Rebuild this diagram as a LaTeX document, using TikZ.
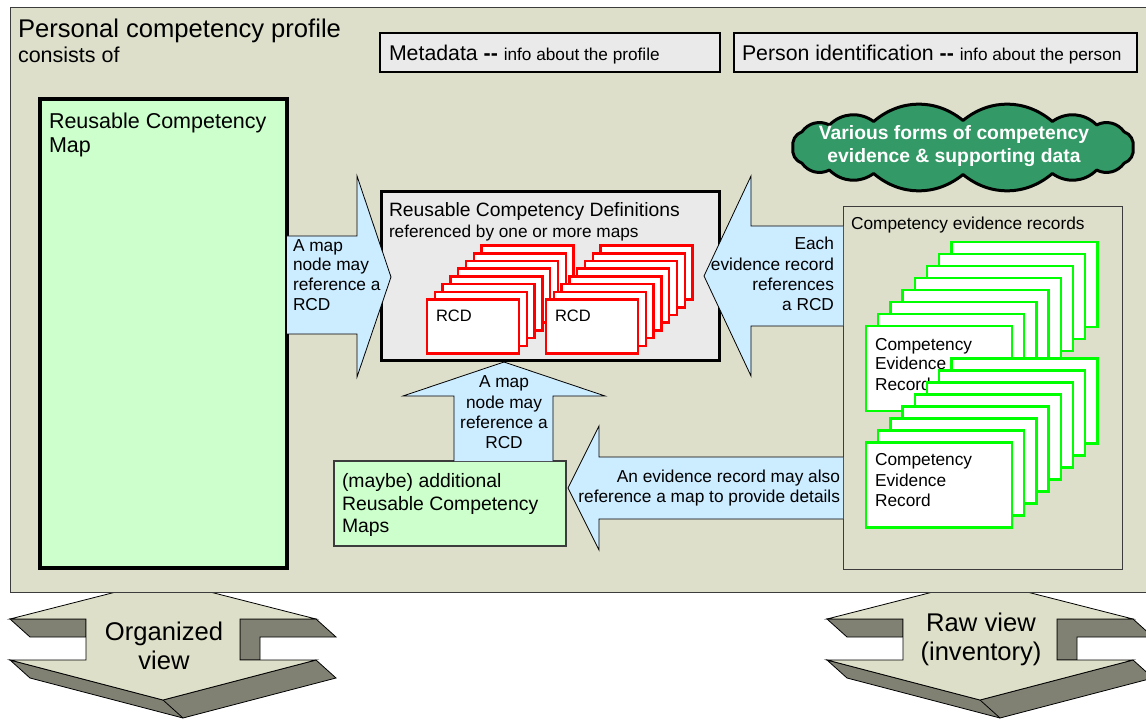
\documentclass[tikz,border=0pt]{standalone}
\usepackage{fontspec}
\setmainfont{Liberation Sans}
\definecolor{bgolive}{RGB}{221,223,203}
\definecolor{frame}{RGB}{60,60,60}
\definecolor{boxgray}{RGB}{234,234,234}
\definecolor{lgreen}{RGB}{204,255,204}
\definecolor{lblue}{RGB}{204,236,255}
\definecolor{cloudgreen}{RGB}{51,153,102}
\definecolor{dkgray}{RGB}{128,129,115}
\definecolor{viewface}{RGB}{221,223,200}
\definecolor{cardred}{RGB}{255,0,0}
\definecolor{cardgreen}{RGB}{0,255,0}
\newcommand{\fsz}[1]{\fontsize{#1pt}{#1pt}\selectfont}
\newcommand{\viewshape}[1]{%
  \filldraw[fill=dkgray,draw=black,line width=0.8pt] (#1-153,619) -- (#1-77,619) -- (#1-77,637) -- (#1-133,637) -- cycle;
  \filldraw[fill=dkgray,draw=black,line width=0.8pt] (#1+77,619) -- (#1+153,619) -- (#1+173,637) -- (#1+97,637) -- (#1+97,660) -- (#1+77,660) -- cycle;
  \filldraw[fill=dkgray,draw=black,line width=0.8pt] (#1-153,660) -- (#1-133,678) -- (#1+20,718) -- (#1+173,678) -- (#1+153,660) -- (#1,700) -- cycle;
  \draw[line width=0.8pt] (#1,700) -- (#1+20,718);
  \filldraw[fill=viewface,draw=black,line width=0.8pt] (#1,580) -- (#1+153,619) -- (#1+77,619) -- (#1+77,660) -- (#1+153,660) -- (#1,700) -- (#1-153,660) -- (#1-77,660) -- (#1-77,619) -- (#1-153,619) -- cycle;
}
\begin{document}
\begin{tikzpicture}[x=1pt,y=-1pt,
  txt/.style={inner sep=0pt,outer sep=0pt,font=\fsz{17.3}},
  boxn/.style={rectangle,anchor=north west,inner sep=0pt,outer sep=0pt},
  rcdcard/.style={boxn,draw=cardred,fill=white,line width=2.5pt,minimum width=92pt,minimum height=54pt},
  evcard/.style={boxn,draw=cardgreen,fill=white,line width=2.5pt,minimum width=146pt,minimum height=85pt},
  blockarrow/.style={fill=lblue,draw=black,line width=0.8pt}]
\useasboundingbox (0,0) rectangle (1146,719);

% bottom view arrows
\viewshape{163}
\viewshape{980}
\node[txt,font=\fsz{25.6},anchor=base] (org1) at (164,640) {Organized};
\node[txt,font=\fsz{25.6},anchor=base] (org2) at (164,669) {view};
\node[txt,font=\fsz{25.6},anchor=base] (raw1) at (981,631) {Raw view};
\node[txt,font=\fsz{25.6},anchor=base] (raw2) at (981,660) {(inventory)};

% profile background
\node[boxn,fill=bgolive,draw=frame,line width=1pt,minimum width=1140pt,minimum height=584pt] (profile) at (10,8) {};
\node[txt,font=\fsz{25.6},anchor=base west] (title) at (18,38) {Personal competency profile};
\node[txt,font=\fsz{21.5},anchor=base west] (consists) at (18,63) {consists of};

% header boxes
\node[boxn,fill=boxgray,draw=black,line width=1.8pt,minimum width=340pt,minimum height=39pt] (meta) at (380,33) {};
\node[txt,anchor=base west] (metat) at (389,61) {\fsz{21.3}Metadata \textbf{-{}-} \fsz{17.2}info about the profile};
\node[boxn,fill=boxgray,draw=black,line width=1.8pt,minimum width=403pt,minimum height=39pt] (person) at (734,33) {};
\node[txt,anchor=base west] (persont) at (742,61) {\fsz{21.3}Person identification \textbf{-{}-} \fsz{17.2}info about the person};

% reusable competency map
\node[boxn,fill=lgreen,draw=black,line width=4.5pt,minimum width=247pt,minimum height=469pt] (map) at (40,99) {};
\node[txt,font=\fsz{21.5},anchor=base west] (map1) at (49,129) {Reusable Competency};
\node[txt,font=\fsz{21.5},anchor=base west] (map2) at (49,153) {Map};

% RCD box
\node[boxn,fill=boxgray,draw=black,line width=3pt,minimum width=338pt,minimum height=168pt] (rcdbox) at (381,192) {};
\node[txt,font=\fsz{19.3},anchor=base west] (rcd1) at (389,217) {Reusable Competency Definitions};
\node[txt,font=\fsz{17.2},anchor=base west] (rcd2) at (389,238) {referenced by one or more maps};
\foreach \i in {7,6,...,1} {
  \node[rcdcard] (rcdL\i) at (427+7.8*\i,299.5-7.7*\i) {};
  \node[rcdcard] (rcdR\i) at (546+7.8*\i,299.5-7.7*\i) {};
}
\node[rcdcard] (rcdL0) at (427,299.5) {};
\node[rcdcard] (rcdR0) at (546,299.5) {};
\node[txt,font=\fsz{16.5},anchor=base west] (rcdLt) at (436,322) {RCD};
\node[txt,font=\fsz{16.5},anchor=base west] (rcdRt) at (555,322) {RCD};

% additional maps
\node[boxn,fill=lgreen,draw=frame,line width=1.2pt,minimum width=232pt,minimum height=85pt] (addmap) at (334,461) {};
\node[txt,font=\fsz{19.4},anchor=base west] (add1) at (342,487) {(maybe) additional};
\node[txt,font=\fsz{19.4},anchor=base west] (add2) at (342,510) {Reusable Competency};
\node[txt,font=\fsz{19.4},anchor=base west] (add3) at (342,532) {Maps};

% evidence records
\node[boxn,fill=bgolive,draw=frame,line width=1pt,minimum width=279pt,minimum height=362pt] (evbox) at (843,207) {};
\node[txt,anchor=base west] (evt) at (851,229.5) {Competency evidence records};
\foreach \i in {7,6,...,1} {
  \node[evcard] (evA\i) at (866+12.2*\i,326-12*\i) {};
}
\node[evcard] (evA0) at (866,326) {};
\node[txt,anchor=base west] (evA1t) at (875,350) {Competency};
\node[txt,anchor=base west] (evA2t) at (875,370) {Evidence};
\node[txt,anchor=base west] (evA3t) at (875,390) {Record};
\foreach \i in {7,6,...,1} {
  \node[evcard] (evB\i) at (866+12.2*\i,442.5-12*\i) {};
}
\node[evcard] (evB0) at (866,442.5) {};
\node[txt,anchor=base west] (evB1t) at (875,465) {Competency};
\node[txt,anchor=base west] (evB2t) at (875,486) {Evidence};
\node[txt,anchor=base west] (evB3t) at (875,506) {Record};

% cloud
\filldraw[fill=cloudgreen,draw=black,line width=3pt,line join=round]
  (963+170,147.5) \foreach \t in {24,48,70,90,110,132,156,180,204,228,250,270,290,312,336,360} { to[bend left=40] ({963+170*sign(cos(\t))*pow(abs(cos(\t))+0.0001,0.6)},{147.5+27*sign(sin(\t))*pow(abs(sin(\t))+0.0001,0.6)}) } -- cycle;
\node[txt,font=\fsz{19.3}\bfseries,text=white,anchor=base] (cl1) at (954,140) {Various forms of competency};
\node[txt,font=\fsz{19.3}\bfseries,text=white,anchor=base] (cl2) at (954,163) {evidence \& supporting data};

% block arrows
\filldraw[blockarrow] (map.east |- 0,236) -- (357,236) -- (357,176) -- (391,277) -- (357,377) -- (357,334) -- (map.east |- 0,334);
\node[txt,anchor=base west] (la1) at (293,251.5) {A map};
\node[txt,anchor=base west] (la2) at (293,271) {node may};
\node[txt,anchor=base west] (la3) at (293,291) {reference a};
\node[txt,anchor=base west] (la4) at (293,310.5) {RCD};

\filldraw[blockarrow] (evbox.west |- 0,226) -- (751,226) -- (751,176) -- (704,276) -- (751,376) -- (751,326) -- (evbox.west |- 0,326);
\node[txt,anchor=base east] (ra1) at (834,250) {Each};
\node[txt,anchor=base east] (ra2) at (834,270.5) {evidence record};
\node[txt,anchor=base east] (ra3) at (834,290.5) {references};
\node[txt,anchor=base east] (ra4) at (834,311) {a RCD};

\filldraw[blockarrow] (454,0 |- addmap.north) -- (454,396) -- (403,396) -- (504,362) -- (605,396) -- (553,396) -- (553,0 |- addmap.north);
\node[txt,anchor=base] (ua1) at (504,387.5) {A map};
\node[txt,anchor=base] (ua2) at (504,408) {node may};
\node[txt,anchor=base] (ua3) at (504,428) {reference a};
\node[txt,anchor=base] (ua4) at (504,448) {RCD};

\filldraw[blockarrow] (evbox.west |- 0,457) -- (599,457) -- (599,426) -- (568,488) -- (599,550) -- (599,519) -- (evbox.west |- 0,519);
\node[txt,anchor=base east] (ba1) at (840,482.5) {An evidence record may also};
\node[txt,anchor=base east] (ba2) at (840,502.5) {reference a map to provide details};
\end{tikzpicture}
\end{document}
